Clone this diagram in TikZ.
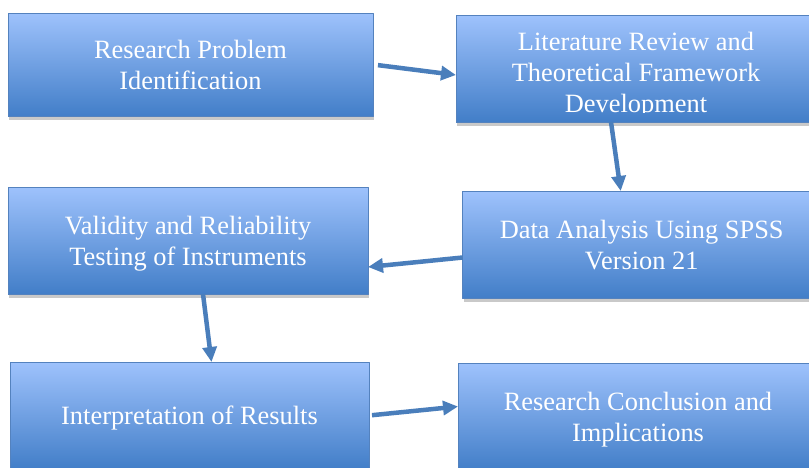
\documentclass[tikz,border=0pt]{standalone}
\usepackage{fontspec}
\setmainfont{Liberation Serif}
\usetikzlibrary{arrows.meta,shadows}
\definecolor{boxtop}{RGB}{158,194,252}
\definecolor{boxbot}{RGB}{66,126,200}
\definecolor{boxline}{RGB}{84,130,190}
\definecolor{arrowblue}{RGB}{74,126,187}
\begin{document}
\begin{tikzpicture}[x=1pt,y=-1pt,line join=round,font=\fontsize{26.4}{31}\selectfont,
	box/.style={draw=boxline,line width=1pt,top color=boxtop,bottom color=boxbot,minimum width=360pt,minimum height=107pt,inner sep=0pt,outer sep=0pt,text=white,align=center,text depth=0pt,drop shadow={shadow xshift=1pt,shadow yshift=-4pt,fill=black!70,opacity=0.3}},
	flow/.style={draw=arrowblue,line width=4.5pt,-{Triangle[length=15pt,width=14pt]}}]
	\useasboundingbox (0,0) rectangle (809,467);
	\clip (0,0) rectangle (809,467);
	\node[box,minimum width=365pt,minimum height=103pt] (prob) at (190.5,64.5) {Research Problem\\Identification};
	\node[box] (lit) at (636,68.5) {};
	\begin{scope}
		\clip (lit.north west) rectangle ([yshift=10pt]lit.south east);
		\node[text=white,align=center,text depth=0pt,inner sep=0pt] (littext) at (636,72.5) {Literature Review and\\Theoretical Framework\\Development};
	\end{scope}
	\node[box] (valid) at (188,240.5) {Validity and Reliability\\Testing of Instruments};
	\node[box,minimum width=358pt] (spss) at (641.7,244.5) {Data Analysis Using SPSS\\Version 21};
	\node[box,minimum width=359pt] (interp) at (189.5,415.5) {Interpretation of Results};
	\node[box] (concl) at (638,416.5) {Research Conclusion and\\Implications};
	\draw[flow,shorten <=5pt] (prob.east) -- ([yshift=-6.5pt]lit.west);
	\draw[flow] ([xshift=-25pt]lit.south) -- ([xshift=-21pt]spss.north);
	\draw[flow] ([yshift=-13pt]spss.west) -- ([yshift=-26.5pt]valid.east);
	\draw[flow] ([xshift=15pt]valid.south) -- ([xshift=22pt]interp.north);
	\draw[flow,shorten <=3pt] (interp.east) -- ([yshift=10pt]concl.west);
\end{tikzpicture}
\end{document}
